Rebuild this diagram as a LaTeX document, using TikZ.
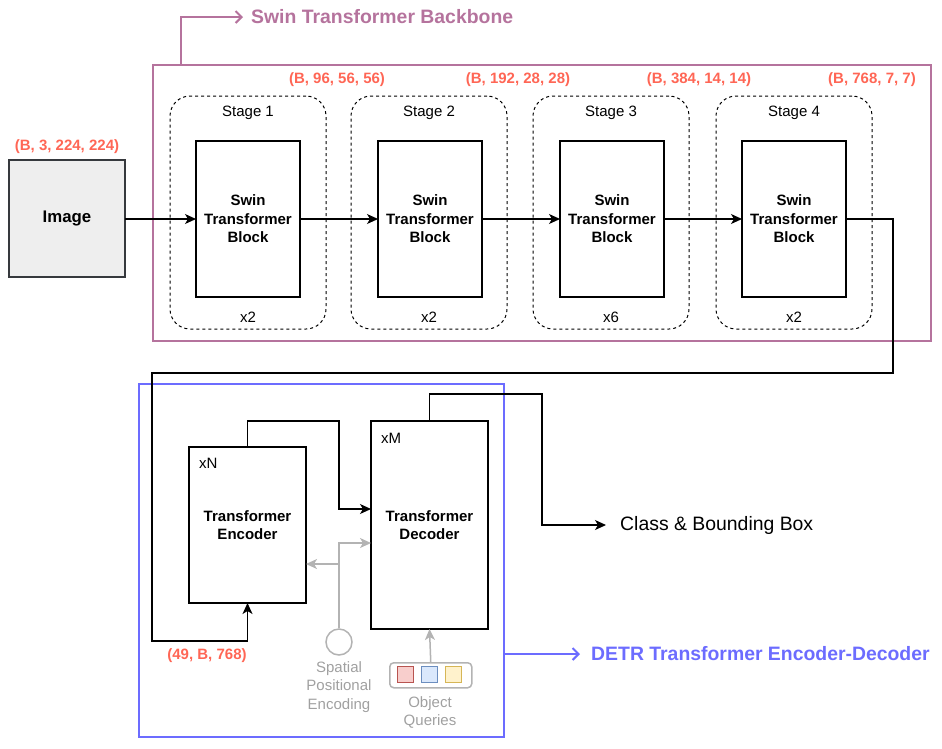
\documentclass[tikz,border=0pt]{standalone}
\usepackage{fontspec}
\setmainfont{Liberation Sans}
\usetikzlibrary{arrows.meta,calc}
\definecolor{pinkc}{HTML}{B5739D}
\definecolor{bluec}{HTML}{6C6CFF}
\definecolor{redc}{HTML}{FF6655}
\definecolor{grayl}{HTML}{B3B3B3}
\definecolor{grayt}{HTML}{A0A0A0}
\definecolor{imgstroke}{HTML}{36393D}
\definecolor{imgfill}{HTML}{EEEEEE}
\definecolor{qrf}{HTML}{F8CECC}\definecolor{qrs}{HTML}{B85450}
\definecolor{qbf}{HTML}{DAE8FC}\definecolor{qbs}{HTML}{6C8EBF}
\definecolor{qyf}{HTML}{FFF2CC}\definecolor{qys}{HTML}{D6B656}
\newcommand{\fnorm}{\fontsize{15}{18.5}\selectfont}
\newcommand{\fbig}{\fontsize{19.4}{23}\selectfont}
\begin{document}
\begin{tikzpicture}[x=1pt,y=-1pt,
  box/.style={draw=black, line width=1.2pt, inner sep=0pt, outer sep=0pt, anchor=north west, align=center, font=\fnorm\bfseries},
  stagebox/.style={draw=black, line width=1pt, dash pattern=on 3pt off 3pt, rounded corners=20pt, inner sep=0pt, outer sep=0pt, anchor=north west, minimum width=156pt, minimum height=233pt},
  lbl/.style={font=\fnorm, inner sep=0pt},
  shp/.style={font=\fnorm\bfseries, text=redc, inner sep=0pt},
  tip/.style={-{Stealth[length=11pt,width=10pt,inset=3pt]}},
  arr/.style={draw=black, line width=1.2pt, tip},
  garr/.style={draw=grayl, line width=1.5pt, -{Stealth[length=11pt,width=10pt,inset=3pt]}},
]
\useasboundingbox (0,0) rectangle (942,748);

% Swin backbone frame
\node[draw=pinkc, line width=2pt, inner sep=0pt, outer sep=0pt, anchor=north west, minimum width=778pt, minimum height=276pt] (bb) at (153,65) {};
\node[font=\fbig\bfseries, text=pinkc, inner xsep=8pt, inner ysep=0pt, anchor=west] (bbt) at (243,17) {Swin Transformer Backbone};
\coordinate (t1) at (181,17);
\draw[draw=pinkc, line width=2pt, -{Straight Barb[length=6pt,width=12pt]}] (bb.north west -| t1) -- (t1) -- (bbt.west);

% Image
\node[box, draw=imgstroke, fill=imgfill, line width=1.2pt, minimum width=116pt, minimum height=117pt, font=\fontsize{16.8}{20}\selectfont\bfseries] (img) at (9,160) {Image};
\node[shp] (simg) at (67,147) {(B, 3, 224, 224)};

% Stages
\foreach \i/\x/\bx/\n in {1/170/196/x2, 2/351/378/x2, 3/533/560/x6, 4/716/742/x2}{
  \node[stagebox] (s\i) at (\x,96) {};
  \node[lbl] (st\i) at ($(s\i.north)+(0,16.5)$) {Stage \i};
  \node[lbl] (sn\i) at ($(s\i.south)+(0,-12)$) {\n};
  \node[box, minimum width=104pt, minimum height=156pt] (b\i) at (\bx,141) {Swin\\Transformer\\Block};
}
\node[shp] (sh1) at (337,80) {(B, 96, 56, 56)};
\node[shp] (sh2) at (518,80) {(B, 192, 28, 28)};
\node[shp] (sh3) at (699,80) {(B, 384, 14, 14)};
\node[shp] (sh4) at (872,80) {(B, 768, 7, 7)};

\draw[arr] (img.east |- b1.west) -- (b1.west);
\draw[arr] (b1.east) -- (b2.west);
\draw[arr] (b2.east) -- (b3.west);
\draw[arr] (b3.east) -- (b4.west);

% DETR frame
\node[draw=bluec, line width=2.5pt, inner sep=0pt, outer sep=0pt, anchor=north west, minimum width=365pt, minimum height=353pt] (detr) at (139,384) {};
\node[font=\fbig\bfseries, text=bluec, inner xsep=11pt, inner ysep=0pt, anchor=west] (dt) at (580,654) {DETR Transformer Encoder-Decoder};
\draw[draw=bluec, line width=2pt, -{Straight Barb[length=6pt,width=12pt]}] (detr.east |- dt.west) -- (dt.west);

% Encoder / decoder
\node[box, minimum width=117pt, minimum height=156pt] (enc) at (189,447) {Transformer\\Encoder};
\node[lbl, anchor=west] (xn) at (199,463) {xN};
\node[box, minimum width=117pt, minimum height=208pt] (dec) at (371,421) {Transformer\\Decoder};
\node[lbl, anchor=west] (xm) at (381,438) {xM};
\node[shp] (s49) at (207,656) {(49, B, 768)};

% backbone -> encoder
\coordinate (w1) at (893,373);
\coordinate (w2) at (152,641);
\draw[arr] (b4.east) -| (w1) -| (w2) -| (enc.south);

% encoder -> decoder
\coordinate (e1) at (339,421);
\coordinate (e2) at (339,509);
\draw[arr] (enc.north) |- (e1) -- (e2) -- (dec.west |- e2);

% decoder -> output
\node[font=\fbig, inner xsep=14pt, inner ysep=0pt, anchor=west] (cls) at (606,525) {Class \& Bounding Box};
\coordinate (f1) at (542,394);
\draw[arr] (dec.north) -- (dec.north |- f1) -- (f1) |- (cls.west);

% spatial positional encoding
\node[draw=grayl, line width=1.5pt, circle, minimum size=26pt, inner sep=0pt] (pe) at (339,642) {};
\node[lbl, text=grayt, align=center, anchor=north] (pet) at (339,661) {Spatial\\Positional\\Encoding};
\coordinate (g1) at (339,543);
\coordinate (g2) at (339,564);
\draw[garr] (pe.north) -- (g1) -- (dec.west |- g1);
\draw[garr] (g2) -- (enc.east |- g2);

% object queries
\node[draw=grayl, line width=1.5pt, rounded corners=4pt, inner sep=0pt, anchor=north west, minimum width=82pt, minimum height=25pt] (oq) at (389,662) {};
\node[draw=qrs, fill=qrf, line width=1.2pt, anchor=north west, minimum size=16pt, inner sep=0pt] (q1) at (397,666) {};
\node[draw=qbs, fill=qbf, line width=1.2pt, anchor=north west, minimum size=16pt, inner sep=0pt] (q2) at (421,666) {};
\node[draw=qys, fill=qyf, line width=1.2pt, anchor=north west, minimum size=16pt, inner sep=0pt] (q3) at (445,666) {};
\node[lbl, text=grayt, align=center, anchor=north] (oqt) at (430,696) {Object\\Queries};
\draw[garr] (oq.north) -- (dec.south);
\end{tikzpicture}
\end{document}
